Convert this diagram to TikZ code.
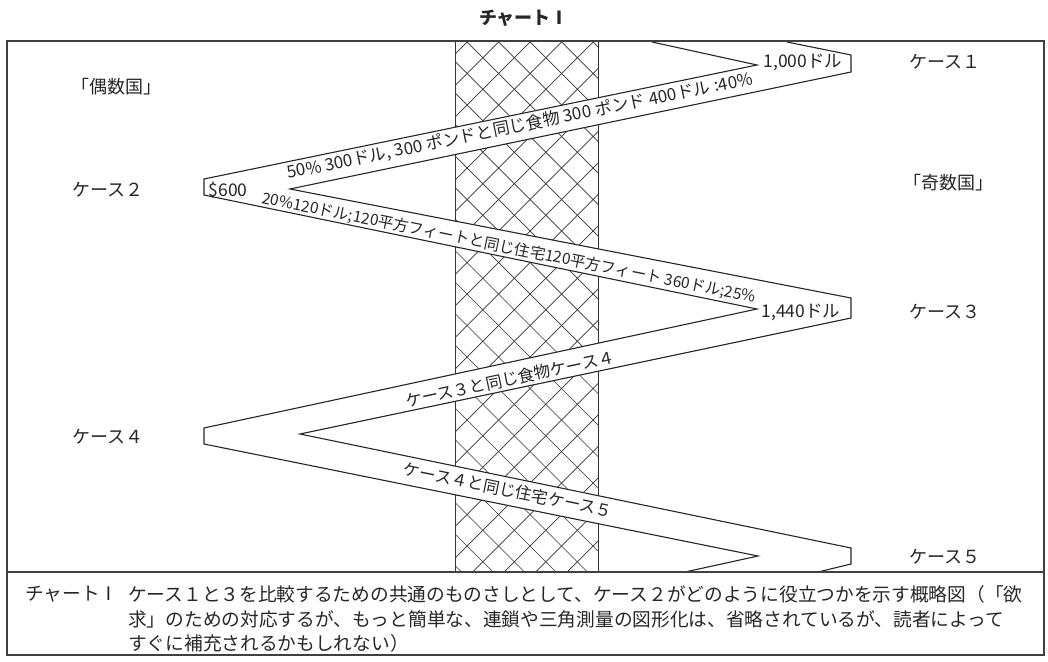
\documentclass[tikz,border=0pt]{standalone}
\usepackage{fontspec}
\setmainfont{Noto Sans CJK JP}
\begin{document}
\begin{tikzpicture}[x=1pt,y=-1pt,
  lbl/.style={font=\fontsize{18}{21}\selectfont, inner sep=0pt, text=black!85},
  rtxt/.style={font=\fontsize{16.5}{19}\selectfont, inner sep=0pt, text=black!85},
  captxt/.style={font=\fontsize{18.7}{21}\selectfont, inner sep=0pt, anchor=west, text=black!85},
  rib/.style={line width=1.1pt, line join=miter, black!85},
  hatchline/.style={line width=0.7pt, black!80},
  frame/.style={line width=1.3pt, black!75}]
\useasboundingbox (0,0) rectangle (1048,661);
% cross-hatched band
\begin{scope}
\clip (455,42) rectangle (598,572);
\foreach \i in {0,...,40} {
  \draw[hatchline] ({-100+31.5*\i},42) -- ++(560,560);
  \draw[hatchline] ({-100+31.5*\i},42) -- ++(-560,560);
}
\end{scope}
\draw[hatchline, line width=1pt] (455,42) -- (455,572) (598,42) -- (598,572);
% ribbon coordinates
\coordinate (T1) at (787,42);
\coordinate (R1a) at (851,55);
\coordinate (R1b) at (851,72);
\coordinate (J1) at (290,189);
\coordinate (R2a) at (851,298);
\coordinate (R2b) at (851,318);
\coordinate (J2) at (300,434);
\coordinate (R3a) at (851,548);
\coordinate (R3b) at (851,564);
\coordinate (B1) at (818,572);
\coordinate (T2) at (652,42);
\coordinate (I1) at (757,65);
\coordinate (L1a) at (204,179);
\coordinate (L1b) at (204,195);
\coordinate (I2) at (757,309);
\coordinate (L2a) at (204,428);
\coordinate (L2b) at (204,444);
\coordinate (I3) at (758,556);
\coordinate (B2) at (685,572);
\fill[white] (T1)--(R1a)--(R1b)--(J1)--(R2a)--(R2b)--(J2)--(R3a)--(R3b)--(B1)--(B2)--(I3)--(L2b)--(L2a)--(I2)--(L1b)--(L1a)--(I1)--(T2)--cycle;
\draw[rib] (T1)--(R1a)--(R1b)--(J1)--(R2a)--(R2b)--(J2)--(R3a)--(R3b)--(B1);
\draw[rib] (T2)--(I1)--(L1a)--(L1b)--(I2)--(L2a)--(L2b)--(I3)--(B2);
% ribbon texts
\node[rtxt, font=\fontsize{17}{20}\selectfont, rotate=11.5] (s1) at (520,126) {50\%\hspace{4pt}300ドル,\hspace{4pt}300\hspace{4pt}ポンドと同じ食物\hspace{4pt}300\hspace{4pt}ポンド\hspace{4pt}400ドル\hspace{4pt}:40\%};
\node[rtxt, font=\fontsize{15.5}{18}\selectfont, rotate=-11.4] (s2) at (509,248) {20\%120ドル;120平方フィートと同じ住宅120平方フィート 360ドル;25\%};
\node[rtxt, rotate=12] (s3) at (510,379) {ケース３と同じ食物ケース４};
\node[rtxt, rotate=-11.6] (s4) at (508,490) {ケース４と同じ住宅ケース５};
\node[rtxt, font=\fontsize{17.5}{20}\selectfont] (v1000) at (803,62) {1,000ドル};
\node[rtxt, font=\fontsize{17.5}{20}\selectfont] (v1440) at (801,312) {1,440ドル};
\node[rtxt, font=\fontsize{17.5}{20}\selectfont] (v600) at (228,190) {\$600};
% side labels
\node[lbl] (even) at (116,87) {「偶数国」};
\node[lbl] (odd) at (948,183) {「奇数国」};
\node[lbl] (c1) at (945,62) {ケース１};
\node[lbl] (c2) at (108,190) {ケース２};
\node[lbl] (c3) at (945,312) {ケース３};
\node[lbl] (c4) at (108,437) {ケース４};
\node[lbl] (c5) at (945,557) {ケース５};
% title
\node[lbl, font=\fontsize{18}{21}\bfseries] (title) at (524,18) {チャートⅠ};
% frame
\draw[frame] (7,41) rectangle (1044,655);
\draw[frame] (7,572) -- (1044,572);
% caption
\node[captxt] (capl) at (25,594) {チャートⅠ};
\node[captxt] (cap1) at (128,594) {ケース１と３を比較するための共通のものさしとして、ケース２がどのように役立つかを示す概略図（「欲};
\node[captxt] (cap2) at (128,619) {求」のための対応するが、もっと簡単な、連鎖や三角測量の図形化は、省略されているが、読者によって};
\node[captxt] (cap3) at (128,643) {すぐに補充されるかもしれない）};
\end{tikzpicture}
\end{document}
